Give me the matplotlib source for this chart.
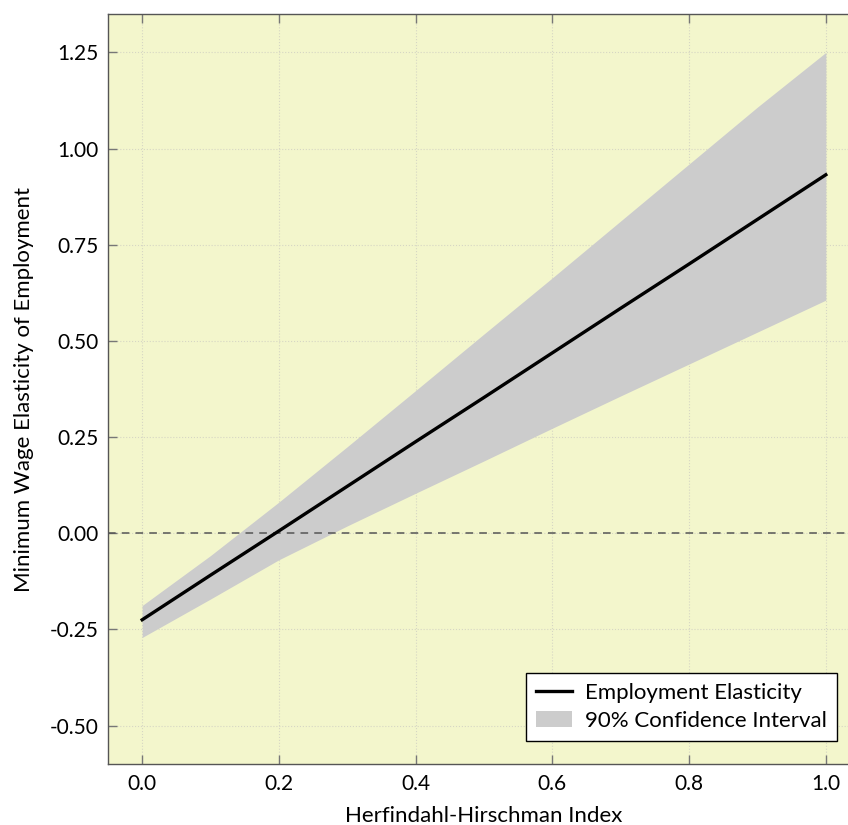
import matplotlib.pyplot as plt

# Dados
hhi = [0.0, 0.1, 0.2, 0.3, 0.4, 0.5, 0.6, 0.7, 0.8, 0.9, 1.0]
elasticity = [-0.225, -0.109, 0.006, 0.122, 0.238, 0.353, 0.469, 0.585, 0.700, 0.816, 0.932]
ci_upper = [-0.188, -0.058, 0.081, 0.225, 0.371, 0.518, 0.664, 0.812, 0.960, 1.108, 1.25]
ci_lower = [-0.271, -0.171, -0.069, 0.019, 0.104, 0.188, 0.273, 0.357, 0.440, 0.523, 0.606]

xticks = [0.0, 0.2, 0.4, 0.6, 0.8, 1.0]
yticks = [-0.5, -0.25, 0.0, 0.25, 0.5, 0.75, 1.0, 1.25]
ytick_labels = ['-0.50', '-0.25', '0.00', '0.25', '0.50', '0.75', '1.00', '1.25']

plt.rcParams['font.family'] = ['Lato', 'DejaVu Sans']
plt.rcParams['axes.unicode_minus'] = False

fig = plt.figure(figsize=(8.48, 8.25), dpi=100)
ax = fig.add_axes([108 / 848, 61 / 825, 752 / 848, 750 / 825])
ax.set_facecolor('#f3f6cc')

ax.fill_between(hhi, ci_lower, ci_upper, color='#cccccc', linewidth=0,
                label='90% Confidence Interval', zorder=2)
ax.plot(hhi, elasticity, color='black', linewidth=2.4,
        label='Employment Elasticity', zorder=3)
ax.axhline(0, color='#555555', linewidth=1.1, linestyle=(0, (5, 4)), zorder=2.5)

ax.set_xlim(-0.05, 1.05)
ax.set_ylim(-0.6, 1.35)
ax.set_xticks(xticks)
ax.set_xticklabels([f'{v:.1f}' for v in xticks])
ax.set_yticks(yticks)
ax.set_yticklabels(ytick_labels)

ax.grid(True, linestyle=':', color='#d6d6c4', linewidth=0.8, zorder=0)
ax.set_axisbelow(True)

for s in ax.spines.values():
    s.set_color('#555555')
    s.set_linewidth(1.0)

ax.tick_params(direction='in', length=6.5, width=1, color='#777777',
               labelsize=15, top=True, right=True, pad=7)

ax.set_xlabel('Herfindahl-Hirschman Index', fontsize=16, labelpad=9)
ax.set_ylabel('Minimum Wage Elasticity of Employment', fontsize=16, labelpad=11)

handles, labels = ax.get_legend_handles_labels()
leg = ax.legend(handles[::-1], labels[::-1], loc='lower right',
                bbox_to_anchor=(0.9694, 0.0307), borderaxespad=0,
                fontsize=16, fancybox=False, framealpha=1, edgecolor='black',
                handlelength=1.6, handletextpad=0.6, borderpad=0.45,
                labelspacing=0.35)
leg.get_frame().set_linewidth(1.0)

plt.savefig('out.png', dpi=100)
